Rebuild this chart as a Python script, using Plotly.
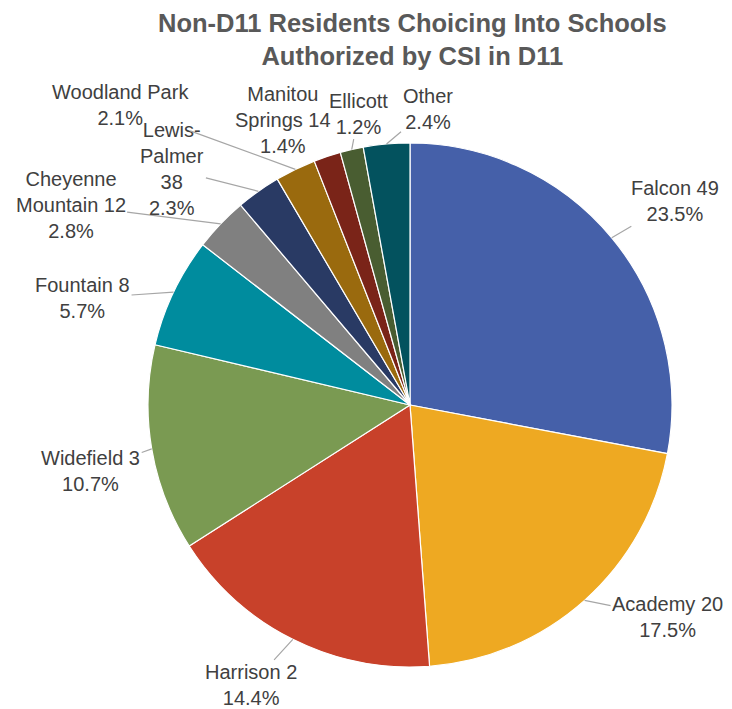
import math
import plotly.graph_objects as go

# ---- data ----
districts = ["Falcon 49", "Academy 20", "Harrison 2", "Widefield 3", "Fountain 8",
             "Cheyenne Mountain 12", "Lewis-Palmer 38", "Woodland Park",
             "Manitou Springs 14", "Ellicott", "Other"]
shares = [23.5, 17.5, 14.4, 10.7, 5.7, 2.8, 2.3, 2.1, 1.4, 1.2, 2.4]
label_lines = ["Falcon 49", "Academy 20", "Harrison 2", "Widefield 3", "Fountain 8",
               "Cheyenne<br>Mountain 12", "Lewis-<br>Palmer<br>38", "Woodland Park",
               "Manitou<br>Springs 14", "Ellicott", "Other"]
title_text = "<b>Non-D11 Residents Choicing Into Schools<br>Authorized by CSI in D11</b>"

# ---- style ----
colors = ["#4560A9", "#EEA922", "#C8412A", "#7A9A52", "#008C9E", "#808080",
          "#293A64", "#9A6A0E", "#7A2418", "#495D31", "#03525E"]
# label text offsets from slice edge (pixels)
offsets = [(63, -37), (83, 17), (-42, 46), (-61, 22), (-91, 6), (-150, -19),
           (-86, -22), (-175, -64), (-44, -36), (7, -36), (41, -35)]

fig = go.Figure(go.Pie(
    labels=districts, values=shares, sort=False, direction="clockwise", rotation=0,
    marker=dict(colors=colors, line=dict(color="white", width=1.2)),
    textinfo="none", hoverinfo="label+percent", showlegend=False,
))

total = sum(shares)
cum = 0.0
annotations = []
for name, v, txt, (ox, oy) in zip(districts, shares, label_lines, offsets):
    mid = (cum + v / 2) / total * 2 * math.pi
    cum += v
    x = 0.5 + 0.5 * math.sin(mid)
    y = 0.5 + 0.5 * math.cos(mid)
    annotations.append(dict(
        x=x, y=y, xref="paper", yref="paper",
        text=f"{txt}<br>{v}%", showarrow=True, ax=ox, ay=oy,
        arrowhead=0, arrowwidth=1.2, arrowcolor="#A6A6A6", standoff=0,
        font=dict(family="Liberation Sans, Arial", size=20, color="#404040"),
        align="center",
    ))

# title as an annotation placed above the pie
annotations.append(dict(
    text=title_text, showarrow=False, xref="paper", yref="paper",
    x=0.505, xanchor="center", y=1 + 135 / 524, yanchor="top", borderpad=0,
    font=dict(family="Liberation Sans, Arial", size=25.5, color="#595959"),
    align="center",
))

fig.update_layout(
    width=724, height=701,
    margin=dict(l=140, r=60, t=135, b=42),
    paper_bgcolor="white", plot_bgcolor="white",
    annotations=annotations,
)
fig.write_html("out.html")
